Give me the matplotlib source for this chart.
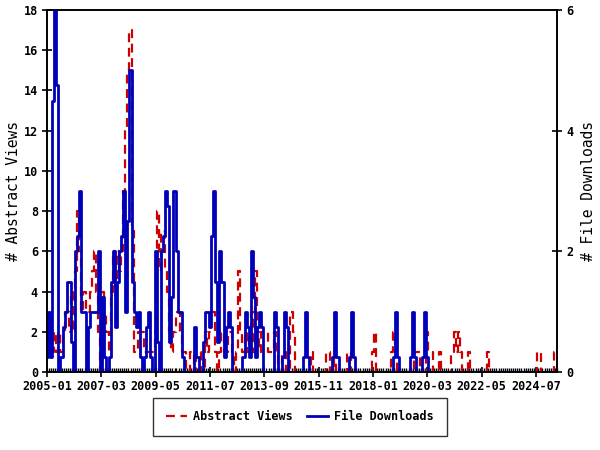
import numpy as np
import pandas as pd
import matplotlib
matplotlib.use("Agg")
import matplotlib.pyplot as plt
import matplotlib.dates as mdates

# monthly series, 2005-01 .. 2025-05
months = pd.date_range("2005-01-01", "2025-05-01", freq="MS")

views_head = [
    1, 2, 2, 1, 2, 1, 2, 1, 2, 3, 3, 2, 4, 2, 5, 8, 6, 3, 4, 3,
    3, 4, 5, 6, 4, 2, 0, 4, 3, 2, 1, 4, 6, 4, 6, 5, 6, 9, 12, 15,
    17, 7, 1, 1, 2, 2, 2, 1, 1, 1, 1, 1, 2, 8, 5, 7, 7, 5, 4, 2,
    1, 2, 3, 3, 2, 1, 1, 0, 0, 1, 1, 0, 1, 1, 0, 0, 2, 1, 2, 3,
    3, 1, 0, 1, 2, 1, 1, 2, 2, 1, 0, 1, 5, 2, 1, 2, 1, 2, 3, 1,
    5, 2, 1, 2, 2, 2, 1, 1, 1, 2, 1, 0, 0, 1, 1, 0, 0, 3, 2, 0,
    0,
]
views_tail = {127: 1, 134: 1, 135: 1, 138: 1, 144: 1, 145: 1, 156: 1,
              157: 2, 165: 1, 166: 2, 167: 1, 176: 1, 177: 1, 178: 1,
              182: 2, 183: 1, 184: 1, 188: 1, 194: 1, 195: 2, 196: 1,
              197: 2, 198: 1, 202: 1, 211: 1, 235: 1, 236: 1, 243: 1,
              244: 1}

downloads_head = [
    0.25, 1, 0.25, 4.5, 6, 4.75, 0, 0.25, 0.75, 1,
    1.5, 1.5, 0.5, 0, 2, 2.25, 3, 1, 1, 0,
    0.75, 1, 1, 1, 1, 2, 0, 1.25, 0.25, 0,
    0.25, 1.5, 2, 0.75, 1.5, 2, 2.25, 3, 1, 2.5,
    5, 1.5, 1, 0.75, 1, 0.25, 0, 0.25, 0.75, 1,
    0.25, 0, 2, 0.5, 0, 2, 2.25, 3, 2.75, 0.5,
    1.25, 3, 2, 1, 1, 0.25, 0, 0, 0, 0,
    0, 0.75, 0.25, 0, 0, 0.5, 1, 1, 0.75, 2.25,
    3, 1.5, 0.5, 2, 1.5, 0.25, 0.75, 1, 0.75, 0,
    0, 0, 0, 0, 0.25, 1, 0.75, 0.25, 2, 1.25,
    0.25, 0.75, 1, 0.75, 0, 0, 0, 0, 0, 1,
    0.75, 0, 0, 0.25, 1, 0.75, 0, 0, 0, 0,
    0,
]
downloads_tail = {123: 0.25, 124: 1, 125: 0.25, 137: 0.25, 138: 1,
                  139: 0.25, 145: 0.25, 146: 1, 147: 0.25, 166: 0.25,
                  167: 1, 168: 0.25, 174: 0.25, 175: 1, 176: 0.25,
                  180: 0.25, 181: 1, 182: 0.25}

tick_labels = ["2005-01", "2007-03", "2009-05", "2011-07", "2013-09",
               "2015-11", "2018-01", "2020-03", "2022-05", "2024-07"]

n = len(months)
views = np.zeros(n)
views[:len(views_head)] = views_head
for k, v in views_tail.items():
    views[k] = v
downloads = np.zeros(n)
downloads[:len(downloads_head)] = downloads_head
for k, v in downloads_tail.items():
    downloads[k] = v

mono = "DejaVu Sans Mono"
red = "#CC0000"
blue = "#0000BB"

fig = plt.figure(figsize=(6, 4.5), dpi=100)
ax = fig.add_axes([47 / 600, 1 - 372 / 450, 510 / 600, 362 / 450])
ax2 = ax.twinx()

l1, = ax.plot(months, views, color=red, lw=1.6, dashes=(4, 2.5),
              drawstyle="steps-mid", label="Abstract Views")
l2, = ax2.plot(months, downloads, color=blue, lw=2, drawstyle="steps-mid",
               label="File Downloads")

ax.set_xlim(months[0], months[-1])
ax.set_ylim(0, 18)
ax2.set_ylim(0, 6)
ax.set_yticks(range(0, 19, 2))
ax2.set_yticks(range(0, 7, 2))

ax.set_xticks(pd.to_datetime(tick_labels, format="%Y-%m"))
ax.set_xticklabels(tick_labels)
ax.xaxis.set_minor_locator(mdates.MonthLocator())

for a in (ax, ax2):
    for s in a.spines.values():
        s.set_linewidth(1.2)
    for lab in a.get_xticklabels() + a.get_yticklabels():
        lab.set_family(mono)
        lab.set_fontweight("bold")
        lab.set_fontsize(8.5)
    a.tick_params(which="major", direction="inout", length=7, width=1.2,
                  pad=3)
ax.tick_params(axis="x", which="minor", direction="in", length=3, width=1)
ax.tick_params(axis="x", which="major", pad=2)

ax.set_ylabel("# Abstract Views", family=mono, fontsize=10.5, labelpad=2)
ax2.set_ylabel("# File Downloads", family=mono, fontsize=10.5, labelpad=6)

leg = fig.legend(handles=[l1, l2], loc="center", ncol=2,
                 bbox_to_anchor=(300 / 600, 1 - 417 / 450),
                 prop={"family": mono, "size": 8.5, "weight": "bold"},
                 frameon=True, fancybox=False, handlelength=1.8,
                 borderpad=1.1, columnspacing=1.2, handletextpad=0.5)
leg.get_frame().set_edgecolor("black")
leg.get_frame().set_linewidth(1)

fig.savefig("out.png", dpi=100)
